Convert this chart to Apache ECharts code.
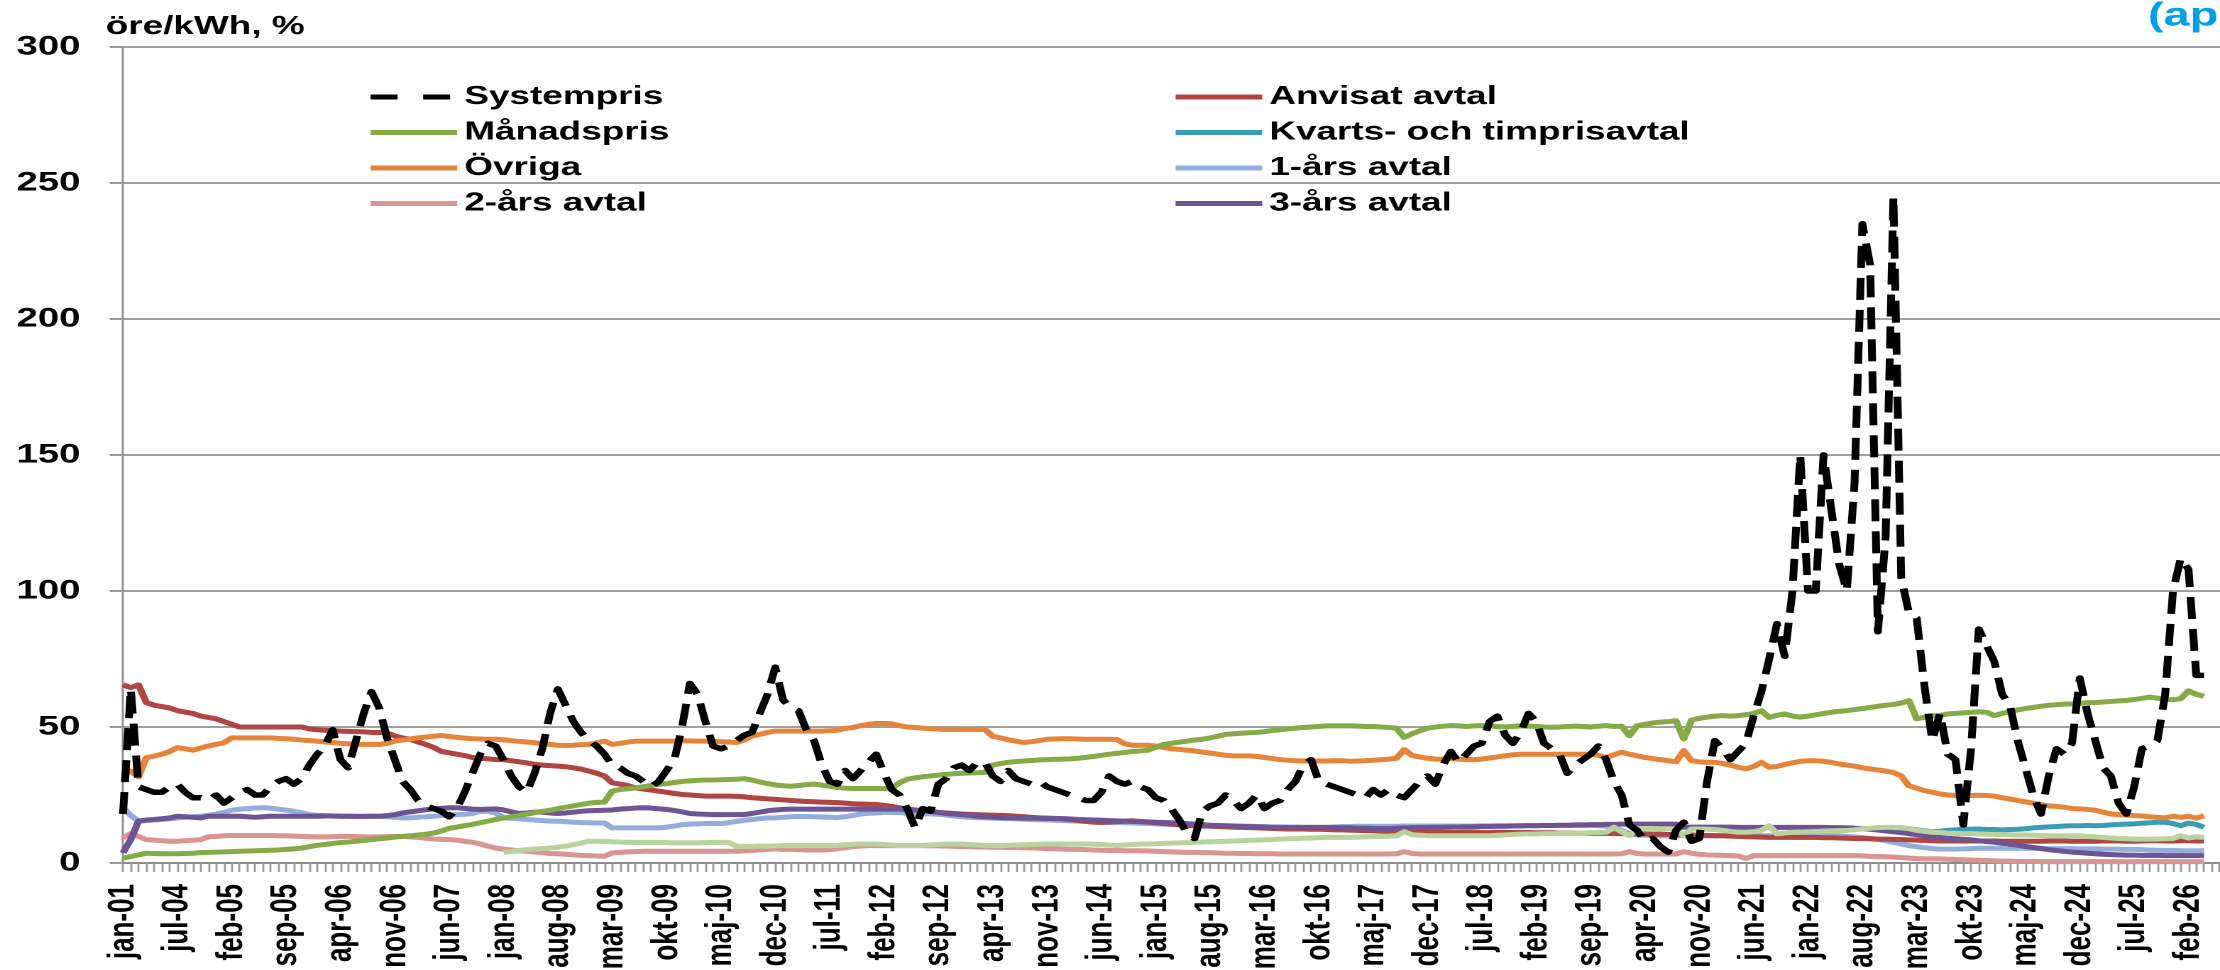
<!DOCTYPE html>
<html>
<head>
<meta charset="utf-8">
<script src="https://cdn.jsdelivr.net/npm/echarts@6/dist/echarts.min.js"></script>
<style>
  html, body { margin: 0; padding: 0; background: #fff; overflow: hidden; }
  #wrap { width: 1564px; height: 970px; transform: scaleX(1.41944); transform-origin: 0 0; }
</style>
</head>
<body>
<div id="wrap"></div>
<script>
// ---------- DATA ----------
const monthNames = ['jan','feb','mar','apr','maj','jun','jul','aug','sep','okt','nov','dec'];
const categories = ['jan-01'];
for (let y = 2004; y <= 2026; y++) {
  for (let m = 0; m < 12; m++) {
    if (y === 2026 && m > 3) break;
    categories.push(monthNames[m] + '-' + String(y).slice(2));
  }
}
const padCategories = ['', '', '', '', '', ''];

const yTicks = { min: 0, max: 300, interval: 50 };

const systempris = [18,
  64, 28, 27, 26, 26, 28, 29, 26, 24, 24, 23, 25,
  22, 24, 26, 27, 25, 25, 28, 30, 31, 29, 31, 36,
  40, 43, 49, 38, 35, 45, 55, 63, 57, 46, 38, 30,
  27, 23, 21, 20, 19, 17, 20, 26, 33, 40, 44, 43,
  38, 32, 28, 26, 33, 42, 55, 64, 58, 52, 48, 45,
  43, 40, 36, 35, 33, 32, 30, 28, 30, 34, 38, 50,
  66, 62, 52, 43, 42, 43, 45, 47, 48, 55, 62, 72,
  60, 57, 56, 49, 45, 36, 30, 29, 34, 31, 34, 37,
  40, 33, 27, 25, 20, 13, 20, 19, 29, 31, 35, 36,
  34, 37, 37, 32, 30, 34, 31, 30, 29, 30, 28, 27,
  26, 25, 24, 23, 23, 26, 32, 30, 29, 30, 28, 27,
  24, 23, 20, 16, 11, 9, 19, 21, 22, 25, 23, 20,
  22, 25, 20, 22, 23, 27, 30, 36, 38, 30, 29, 28,
  27, 26, 25, 24, 27, 25, 27, 25, 24, 27, 30, 32,
  29, 36, 41, 37, 40, 43, 44, 52, 54, 47, 44, 48,
  55, 52, 44, 42, 40, 33, 36, 38, 40, 43, 38, 30,
  25, 14, 12, 8, 9, 6, 4, 12, 15, 8, 9, 30,
  45, 42, 38, 41, 44, 54, 63, 75, 88, 76, 100, 150,
  100, 100, 150, 130, 110, 100, 140, 235, 220, 85, 120, 245,
  105, 92, 90, 65, 45, 55, 40, 38, 14, 42, 86, 80,
  74, 62, 58, 45, 35, 25, 18, 32, 42, 40, 44, 68,
  55, 45, 35, 32, 22, 18, 28, 42, 43, 45, 62, 100,
  112, 108, 69, 69
];

const anvisatAvtal = [65.5,
  64.5, 65.5, 59, 58, 57.5, 57, 56, 55.5, 55, 54, 53.5, 53,
  52, 51, 50, 50, 50, 50, 50, 50, 50, 50, 50, 49.3,
  49, 48.8, 48.6, 48.5, 48.4, 48.3, 48.2, 48, 48, 47.8, 46.7, 46,
  45.5, 44.5, 43.6, 42.5, 41, 40.5, 40, 39.5, 38.8, 38.5, 38.3, 38,
  38, 37.6, 37.2, 36.8, 36.3, 36, 35.8, 35.6, 35.4, 35, 34.5, 33.8,
  33, 32, 29.5, 29, 28.5, 27.6, 27.2, 26.8, 26.4, 26, 25.6, 25.2,
  25, 24.8, 24.6, 24.6, 24.6, 24.6, 24.5, 24.3, 24, 23.8, 23.6, 23.4,
  23.2, 23, 22.8, 22.6, 22.5, 22.4, 22.3, 22.2, 22, 21.8, 21.7, 21.6,
  21.5, 21.2, 20.8, 20.3, 19.8, 19.5, 19.2, 19, 18.6, 18.4, 18.2, 18,
  17.9, 17.8, 17.7, 17.6, 17.5, 17.4, 17.2, 17, 16.8, 16.6, 16.5, 16.3,
  16.2, 16, 15.6, 15.3, 15, 14.9, 15, 15.2, 15.4, 15.5, 15.3, 15,
  14.8, 14.5, 14.3, 14, 13.8, 13.7, 13.6, 13.5, 13.4, 13.3, 13.2, 13.1,
  13, 12.9, 12.8, 12.7, 12.6, 12.5, 12.5, 12.5, 12.4, 12.4, 12.3, 12.2,
  12.2, 12.1, 12, 11.9, 11.8, 11.7, 11.6, 11.5, 11.4, 11.3, 11.3, 11.3,
  11.3, 11.3, 11.2, 11.2, 11.3, 11.3, 11.2, 11.2, 11.3, 11.3, 11.2, 11.2,
  11.2, 11.1, 11.1, 11.1, 11, 11, 11, 11, 10.9, 10.9, 10.9, 10.8,
  10.8, 10.7, 10.7, 10.7, 10.6, 10.6, 10.5, 10.5, 10.4, 10.3, 10.2, 10.1,
  10, 10, 9.9, 9.8, 9.7, 9.6, 9.5, 9.4, 9.4, 9.4, 9.4, 9.4,
  9.4, 9.4, 9.3, 9.3, 9.2, 9.1, 9, 9, 8.9, 8.8, 8.8, 8.7,
  8.6, 8.5, 8.4, 8.3, 8.2, 8.1, 8.1, 8.1, 8.1, 8.1, 8.1, 8.1,
  8.1, 8, 8, 8, 8, 8, 8, 8.1, 8.1, 8.1, 8, 8,
  8, 8, 8.1, 8.1, 8.1, 8, 8, 8.1, 8.2, 8.2, 8.1, 8.1,
  8.2, 8.2, 8.1, 8.1
];

const manadspris = [1.8,
  2.4, 3, 3.6, 3.5, 3.4, 3.4, 3.4, 3.5, 3.6, 3.8, 3.9, 4,
  4.1, 4.2, 4.3, 4.4, 4.5, 4.6, 4.7, 4.8, 5, 5.2, 5.5, 6,
  6.5, 6.8, 7.2, 7.5, 7.7, 8, 8.3, 8.6, 8.9, 9.2, 9.5, 9.8,
  10, 10.3, 10.6, 11, 11.8, 12.7, 13.2, 13.7, 14.2, 14.8, 15.4, 16,
  16.5, 17, 17.5, 18, 18.5, 19, 19.4, 20, 20.5, 21, 21.5, 22,
  22.3, 22.4, 26.5, 27, 27.3, 27.6, 28, 28.5, 28.9, 29.2, 29.6, 30,
  30.2, 30.4, 30.5, 30.5, 30.6, 30.7, 30.8, 31, 30.5, 29.8, 29.2, 28.7,
  28.4, 28.2, 28.5, 28.8, 29, 28.6, 28.2, 27.8, 27.5, 27.4, 27.4, 27.4,
  27.4, 27.4, 27.5, 29.5, 30.8, 31.3, 31.7, 32, 32.3, 32.6, 32.8, 33,
  33.1, 33.2, 33.3, 36, 36.5, 37, 37.3, 37.5, 37.7, 37.9, 38, 38.1,
  38.2, 38.3, 38.5, 38.8, 39.2, 39.6, 40, 40.3, 40.6, 41, 41.2, 41.5,
  42.5, 43.6, 44, 44.4, 44.8, 45.2, 45.5, 46, 46.6, 47.3, 47.5, 47.7,
  47.9, 48, 48.3, 48.7, 49, 49.3, 49.6, 49.8, 50, 50.2, 50.4, 50.4,
  50.4, 50.4, 50.3, 50.2, 50.2, 50, 49.8, 49.6, 46.2, 47.5, 48.6, 49.5,
  50, 50.3, 50.5, 50.4, 50.2, 50.4, 50.5, 50.3, 50.2, 50, 50.2, 50.4,
  50.3, 50.2, 50, 49.9, 50, 50.2, 50.3, 50.2, 50, 50.3, 50.5, 50.2,
  50.3, 46.8, 50.5, 51, 51.5, 51.8, 52, 52.3, 45.6, 52.5, 53.2, 53.6,
  54, 54.2, 54, 54.2, 54.5, 55, 56, 53.5, 54.3, 54.8, 54, 53.6,
  54, 54.5, 55, 55.4, 55.8, 56, 56.4, 56.8, 57.2, 57.6, 58, 58.3,
  58.8, 59.7, 53, 53.6, 54, 54.3, 54.8, 55, 55.2, 55.4, 55.6, 55.4,
  54.2, 55, 55.6, 56.3, 56.8, 57.2, 57.6, 58, 58.2, 58.4, 58.5, 58.7,
  58.9, 59, 59.2, 59.4, 59.6, 59.8, 60.1, 60.5, 61, 60.6, 60.2, 60,
  60.4, 63.3, 62, 61.3
];

const kvartsTimpris = [null,
  null, null, null, null, null, null, null, null, null, null, null, null,
  null, null, null, null, null, null, null, null, null, null, null, null,
  null, null, null, null, null, null, null, null, null, null, null, null,
  null, null, null, null, null, null, null, null, null, null, null, null,
  null, null, null, null, null, null, null, null, null, null, null, null,
  null, null, null, null, null, null, null, null, null, null, null, null,
  null, null, null, null, null, null, null, null, null, null, null, null,
  null, null, null, null, null, null, null, null, null, null, null, null,
  null, null, null, null, null, null, null, null, null, null, null, null,
  null, null, null, null, null, null, null, null, null, null, null, null,
  null, null, null, null, null, null, null, null, null, null, null, null,
  null, null, null, null, null, null, null, null, null, null, null, null,
  null, null, null, null, null, null, null, null, null, null, null, null,
  null, null, null, null, null, null, null, null, null, null, null, null,
  null, null, null, null, null, null, null, null, null, null, null, null,
  null, null, null, null, null, null, null, null, null, null, null, null,
  null, null, null, null, null, null, null, null, null, null, null, null,
  null, null, null, null, null, null, null, null, null, null, null, null,
  null, null, null, null, null, null, null, null, null, null, null, 12.8,
  13, 12.6, 12.2, 11.8, 11.5, 11.7, 12, 12.2, 12.5, 12.4, 12.5, 12.3,
  12.3, 12.2, 12.3, 12.4, 12.6, 12.9, 13.1, 13.3, 13.4, 13.6, 13.7, 13.7,
  13.8, 13.7, 13.8, 14, 14.2, 14.3, 14.4, 14.6, 14.8, 15, 15, 14.5,
  13.7, 14.7, 14.2, 13.1
];

const ovriga = [32.6,
  33.8, 31.7, 38.7, 39.3, 40, 41, 42.4, 42, 41.5, 42.3, 43, 43.6,
  44.2, 46, 46, 46, 46, 46, 46, 45.8, 45.7, 45.5, 45.2, 45,
  44.8, 44.5, 44.3, 44, 43.8, 43.6, 43.6, 43.6, 43.6, 44, 44.8, 45.2,
  45.6, 46, 46.3, 46.6, 46.9, 46.5, 46.2, 45.9, 45.7, 45.6, 45.5, 45.5,
  45.3, 45, 44.7, 44.5, 44.2, 43.9, 43.6, 43.3, 43.2, 43.3, 43.5, 43.6,
  44.2, 44.8, 43.6, 44, 44.4, 44.8, 44.8, 44.8, 44.8, 44.8, 44.8, 44.9,
  44.9, 44.8, 44.8, 44.7, 44.6, 44.5, 44.3, 45.2, 46.7, 47.3, 48, 48.5,
  48.5, 48.5, 48.5, 48.5, 48.5, 48.5, 48.6, 48.8, 49.5, 49.8, 50.5, 51,
  51.3, 51.3, 51.2, 50.5, 50, 49.8, 49.6, 49.4, 49.2, 49.1, 49.1, 49.1,
  49.1, 49.1, 49.1, 46.6, 46, 45.3, 44.8, 44.3, 44.6, 45, 45.5, 45.6,
  45.7, 45.7, 45.6, 45.5, 45.5, 45.5, 45.5, 45.4, 43.8, 43.3, 43.3, 43.3,
  43, 42.5, 42, 41.8, 41.5, 41.2, 40.8, 40.4, 40, 39.6, 39.4, 39.4,
  39.4, 39.2, 38.8, 38.4, 38, 37.8, 37.6, 37.5, 37.5, 37.5, 37.5, 37.6,
  37.6, 37.4, 37.5, 37.6, 37.8, 38, 38.2, 38.5, 41.7, 39.5, 39, 38.5,
  38.2, 38.2, 38.4, 38.2, 38, 38, 38.2, 38.6, 39, 39.4, 39.8, 40,
  40, 40, 40, 40, 40, 40, 40, 40, 40, 39.6, 38.8, 39.8,
  40.7, 40, 39.4, 38.8, 38.4, 38, 37.6, 37.2, 41.3, 37.6, 37.2, 37,
  37, 36.6, 36, 35.2, 34.6, 35.5, 37, 35.2, 35.5, 36.2, 36.8, 37.4,
  37.6, 37.6, 37.4, 37, 36.4, 36, 35.6, 35, 34.6, 34.2, 33.8, 33.3,
  32, 28.4, 27.5, 26.6, 26, 25.4, 25, 24.8, 24.8, 24.8, 24.9, 24.8,
  24.6, 24, 23.5, 23, 22.5, 22, 21.5, 21, 20.8, 20.5, 20, 19.9,
  19.7, 19.4, 18.7, 18, 17.8, 17.6, 17.4, 17.3, 17, 16.8, 16.6, 17.2,
  16.8, 17.2, 16.5, 17.4
];

const ettarsAvtal = [20.3,
  17.5, 15.4, 15.6, 15.8, 16, 16.2, 16.5, 16.8, 17, 17.2, 17.5, 18,
  18.6, 19.4, 19.8, 20, 20.2, 20.3, 20.2, 19.8, 19.4, 19, 18.5, 17.8,
  17.6, 17.4, 17.3, 17.2, 17.2, 17.2, 17.2, 17.2, 17.2, 17, 16.8, 16.6,
  16.6, 16.8, 17, 17.2, 17.4, 17.6, 17.8, 17.9, 18.2, 19, 19, 18.4,
  16.6, 16.4, 16.2, 16, 15.8, 15.6, 15.4, 15.4, 15.2, 15, 14.9, 14.8,
  14.7, 14.7, 12.9, 12.9, 12.9, 12.9, 12.9, 12.9, 12.9, 13.2, 13.6, 14.1,
  14.3, 14.4, 14.5, 14.5, 14.5, 14.8, 15.3, 15.7, 16, 16.3, 16.6, 16.6,
  16.8, 17, 17.1, 17.1, 17, 16.9, 16.8, 16.7, 17, 17.5, 18, 18.3,
  18.4, 18.6, 18.6, 18.5, 18.3, 18.1, 18, 18, 17.9, 17.6, 17.3, 17,
  16.8, 16.7, 16.6, 16.5, 16.4, 16.3, 16.2, 16.1, 16, 15.9, 15.8, 15.7,
  15.6, 15.5, 15.4, 15.3, 15.2, 15.1, 15, 14.9, 14.8, 14.7, 14.6, 14.5,
  14.4, 14.3, 14.2, 14.1, 14, 13.9, 13.8, 13.7, 13.7, 13.6, 13.6, 13.5,
  13.5, 13.4, 13.4, 13.3, 13.3, 13.2, 13.2, 13.1, 13.1, 13.1, 13.2, 13.3,
  13.4, 13.4, 13.5, 13.5, 13.5, 13.5, 13.5, 13.5, 13.6, 13.6, 13.6, 13.6,
  13.6, 13.6, 13.6, 13.6, 13.6, 13.6, 13.7, 13.7, 13.7, 13.7, 13.7, 13.8,
  13.8, 13.8, 13.8, 13.8, 13.8, 13.8, 13.8, 13.8, 13.8, 13.7, 13.5, 13,
  12, 10.8, 10.3, 10.2, 10.1, 10, 10, 10, 10, 10, 10, 10,
  10, 10, 10, 10, 10, 10, 10, 10, 10, 10, 10, 10,
  10, 10, 10, 10, 10, 9.8, 9.6, 9.4, 9, 8.6, 8.2, 7.6,
  7, 6.4, 6, 5.6, 5.3, 5.1, 5.1, 5.1, 5.2, 5.3, 5.4, 5.4,
  5.4, 5.4, 5.4, 5.4, 5.4, 5.4, 5.4, 5.3, 5.3, 5.3, 5.3, 5.2,
  5.2, 5.2, 5.1, 5.1, 5.1, 5, 5, 4.9, 4.8, 4.7, 4.6, 4.6,
  4.5, 4.5, 4.5, 4.5
];

const tvaarsAvtal = [9.2,
  10.8, 9.8, 8.6, 8.4, 8.2, 8, 8, 8.2, 8.4, 8.6, 9.6, 9.8,
  10, 10.1, 10.1, 10.1, 10.1, 10.1, 10.1, 10, 10, 9.9, 9.8, 9.7,
  9.6, 9.6, 9.7, 9.8, 9.8, 9.7, 9.6, 9.6, 9.6, 9.7, 9.8, 9.8,
  9.6, 9.4, 9.1, 8.8, 8.7, 8.6, 8.4, 8, 7.6, 7, 6.2, 5.5,
  5.1, 4.8, 4.5, 4.3, 4.1, 3.8, 3.5, 3.4, 3.2, 3, 2.8, 2.7,
  2.6, 2.5, 3.7, 3.9, 4.1, 4.2, 4.3, 4.3, 4.3, 4.3, 4.3, 4.3,
  4.3, 4.3, 4.3, 4.3, 4.3, 4.3, 4.3, 4.4, 4.6, 4.8, 5, 5.2,
  5, 5, 4.9, 4.8, 4.8, 4.8, 4.9, 5.2, 5.6, 6, 6.2, 6.4,
  6.4, 6.4, 6.4, 6.4, 6.4, 6.4, 6.4, 6.3, 6.3, 6.2, 6.1, 6,
  6, 5.9, 5.9, 5.8, 5.8, 5.7, 5.7, 5.6, 5.5, 5.4, 5.3, 5.2,
  5.1, 5, 5, 4.9, 4.8, 4.7, 4.6, 4.6, 4.5, 4.5, 4.5, 4.4,
  4.3, 4.2, 4.1, 4, 3.9, 3.9, 3.8, 3.8, 3.7, 3.6, 3.6, 3.5,
  3.5, 3.4, 3.4, 3.4, 3.3, 3.3, 3.3, 3.3, 3.3, 3.3, 3.3, 3.3,
  3.3, 3.3, 3.3, 3.3, 3.3, 3.3, 3.3, 3.4, 4.2, 3.5, 3.3, 3.3,
  3.3, 3.3, 3.3, 3.3, 3.3, 3.3, 3.3, 3.3, 3.3, 3.3, 3.3, 3.3,
  3.3, 3.3, 3.3, 3.3, 3.3, 3.3, 3.3, 3.3, 3.3, 3.3, 3.3, 3.3,
  3.4, 4.2, 3.5, 3.3, 3.3, 3.3, 3.3, 3.3, 4.2, 3.6, 3.2, 3,
  2.9, 2.8, 2.7, 2.6, 1.7, 2.7, 2.7, 2.7, 2.7, 2.7, 2.7, 2.7,
  2.7, 2.7, 2.7, 2.7, 2.7, 2.7, 2.7, 2.6, 2.5, 2.4, 2.3, 2.2,
  2, 1.8, 1.6, 1.5, 1.5, 1.5, 1.4, 1.3, 1.2, 1.1, 1, 0.9,
  0.8, 0.7, 0.7, 0.6, 0.6, 0.6, 0.5, 0.5, 0.5, 0.5, 0.5, 0.5,
  0.5, 0.5, 0.5, 0.5, 0.5, 0.5, 0.5, 0.5, 0.5, 0.5, 0.5, 0.5,
  0.5, 0.5, 0.5, 0.5
];

const trearsAvtal = [3.7,
  8.6, 15.4, 15.8, 16, 16.3, 16.6, 17.2, 17, 16.8, 16.6, 17.2, 17.2,
  17.2, 17.2, 17.2, 17, 16.8, 17, 17.2, 17.2, 17.2, 17.2, 17.2, 17.2,
  17.2, 17.3, 17.3, 17.2, 17.2, 17.1, 17.1, 17.2, 17.2, 17.4, 17.8, 18.4,
  18.8, 19.2, 19.6, 19.9, 20.1, 20.3, 20.3, 20.1, 19.8, 19.7, 19.8, 19.9,
  19.5, 18.8, 18.2, 18.4, 18.7, 18.7, 18.4, 18.2, 18.4, 18.7, 19, 19.2,
  19.3, 19.4, 19.5, 19.8, 20, 20.2, 20.3, 20.2, 19.9, 19.7, 19.3, 18.8,
  18.2, 18, 17.9, 17.8, 17.8, 17.8, 17.8, 17.8, 18.2, 18.7, 19.2, 19.5,
  19.7, 19.8, 19.8, 19.8, 19.8, 19.8, 19.8, 19.8, 19.8, 19.8, 19.8, 19.8,
  19.8, 19.8, 19.8, 19.8, 19.6, 19.4, 19.2, 19, 18.6, 18.2, 18, 17.8,
  17.5, 17.2, 17, 16.8, 16.7, 16.6, 16.6, 16.5, 16.5, 16.4, 16.4, 16.4,
  16.3, 16.2, 16, 15.9, 15.8, 15.7, 15.6, 15.5, 15.4, 15.3, 15.2, 15.1,
  15, 14.9, 14.8, 14.7, 14.5, 14.3, 14.1, 13.9, 13.8, 13.7, 13.6, 13.5,
  13.4, 13.3, 13.2, 13.1, 13.1, 13.1, 13.1, 13.1, 13.1, 13.1, 13, 13,
  12.9, 12.9, 12.8, 12.8, 12.7, 12.7, 12.7, 12.8, 12.9, 13, 13, 13.1,
  13.1, 13.1, 13.2, 13.2, 13.3, 13.3, 13.4, 13.4, 13.5, 13.5, 13.6, 13.6,
  13.7, 13.7, 13.8, 13.8, 13.9, 13.9, 14, 14, 14.1, 14.1, 14.2, 14.2,
  14.3, 14.3, 14.3, 14.3, 14.3, 14.3, 14.3, 14.3, 13.1, 13.2, 13.2, 13.2,
  13.2, 13.2, 13.2, 13.1, 13.1, 13.1, 13.1, 13.1, 13.1, 13.1, 13.1, 13.1,
  13.1, 13.1, 13.1, 13, 13, 12.9, 12.8, 12.6, 12.4, 12.1, 11.8, 11.5,
  11.2, 10.8, 10.4, 10, 9.7, 9.4, 9.1, 8.9, 8.7, 8.5, 8.2, 7.9,
  7.6, 7.3, 6.9, 6.5, 6.1, 5.7, 5.3, 4.9, 4.6, 4.3, 4, 3.8,
  3.6, 3.4, 3.2, 3.1, 3, 2.9, 2.9, 2.8, 2.8, 2.8, 2.7, 2.7,
  2.7, 2.7, 2.7, 2.7
];

const ovrigSerie = [null,
  null, null, null, null, null, null, null, null, null, null, null, null,
  null, null, null, null, null, null, null, null, null, null, null, null,
  null, null, null, null, null, null, null, null, null, null, null, null,
  null, null, null, null, null, null, null, null, null, null, null, null,
  3.9, 4.2, 4.6, 4.9, 5.1, 5.3, 5.5, 5.8, 6.2, 6.8, 7.3, 8,
  8, 8, 7.8, 7.7, 7.6, 7.6, 7.6, 7.6, 7.6, 7.5, 7.4, 7.4,
  7.4, 7.4, 7.5, 7.6, 7.6, 7.6, 6.1, 6.1, 6.1, 6.2, 6.2, 6.3,
  6.4, 6.4, 6.4, 6.4, 6.4, 6.4, 6.4, 6.5, 6.7, 6.9, 7, 7,
  7, 6.8, 6.6, 6.4, 6.4, 6.4, 6.5, 6.6, 6.8, 7, 7, 7,
  6.8, 6.6, 6.4, 6.4, 6.4, 6.5, 6.6, 6.7, 6.8, 6.9, 7, 7,
  7, 7, 7, 7, 6.9, 6.8, 6.6, 6.4, 6.6, 6.8, 7, 7,
  7.1, 7.2, 7.3, 7.4, 7.5, 7.6, 7.7, 7.8, 7.9, 8, 8.1, 8.2,
  8.3, 8.4, 8.5, 8.6, 8.8, 8.9, 9, 9.1, 9.2, 9.3, 9.4, 9.4,
  9.4, 9.4, 9.5, 9.6, 9.7, 9.8, 9.9, 10, 11.5, 10.4, 10.2, 10,
  10, 10, 10, 10, 10, 10, 10, 10, 10.2, 10.3, 10.5, 10.6,
  10.7, 10.7, 10.8, 10.8, 10.9, 10.9, 11, 11, 11.1, 11.2, 11.3, 13.1,
  11.5, 10, 12.7, 12.7, 12.7, 12.6, 12.6, 12.5, 10, 12.5, 12.5, 12.4,
  12.3, 12, 11.6, 11.3, 11.3, 11.5, 12, 13.7, 10.7, 11, 11.3, 11.4,
  11.5, 11.6, 11.7, 11.8, 11.9, 12, 12.2, 12.5, 12.8, 13, 13.1, 13.1,
  13, 12.6, 12, 11.6, 11.3, 11.2, 11, 10.9, 10.8, 10.8, 10.7, 10.6,
  10.5, 10.5, 10.4, 10.3, 10.3, 10.2, 10.1, 10, 10, 10, 10, 10,
  9.8, 9.6, 9.4, 9.2, 9, 8.9, 8.8, 8.8, 8.8, 8.8, 8.9, 9,
  10, 9.2, 9.6, 9.4
];

// ---------- CHART ----------
const FONT = "'Liberation Sans', Arial, sans-serif";
const chart = echarts.init(document.getElementById('wrap'), null, { renderer: 'canvas', devicePixelRatio: 2 });

function line(name, data, color, width, z, type) {
  return {
    name, type: 'line', data, symbol: 'none', z, animation: false,
    connectNulls: false,
    lineStyle: { color, width, type: type || 'solid', cap: 'butt', join: 'round' },
    itemStyle: { color },
    emphasis: { disabled: true }
  };
}

const legendText = { fontFamily: FONT, fontWeight: 'bold', fontSize: 26, color: '#000', lineHeight: 26 };
const legendBase = {
  orient: 'vertical', top: 84, padding: 0,
  itemWidth: 61, itemHeight: 14, itemGap: 9.5, selectedMode: false,
  itemStyle: { opacity: 0, borderWidth: 0 },
  lineStyle: { width: 5 },
  textStyle: legendText
};

chart.setOption({
  backgroundColor: '#ffffff',
  animation: false,
  grid: { left: 86.65, top: 47, width: 1498.9, height: 816, outerBoundsMode: 'none', containLabel: false },
  xAxis: {
    type: 'category',
    data: categories.concat(padCategories),
    boundaryGap: false,
    axisLine: { show: true, lineStyle: { color: '#8c8c8c', width: 2 } },
    axisTick: { show: true, interval: 0, length: 9, lineStyle: { color: '#9a9a9a', width: 1.4 } },
    axisLabel: { interval: 6, rotate: 90, margin: 21, fontFamily: FONT, fontWeight: 'bold', fontSize: 26, color: '#000' },
    splitLine: { show: false }
  },
  yAxis: {
    type: 'value',
    min: yTicks.min, max: yTicks.max, interval: yTicks.interval,
    axisLine: { show: true, lineStyle: { color: '#8c8c8c', width: 1.4 } },
    axisTick: { show: true, length: 9.4, lineStyle: { color: '#9a9a9a', width: 2 } },
    axisLabel: { margin: 30, fontFamily: FONT, fontWeight: 'bold', fontSize: 27, color: '#000' },
    splitLine: { show: true, lineStyle: { color: '#a0a0a0', width: 2 } }
  },
  legend: [
    Object.assign({}, legendBase, {
      left: 258.6,
      data: [
        { name: 'Systempris', lineStyle: { type: [19, 18], width: 5 } },
        'Månadspris', 'Övriga', '2-års avtal'
      ]
    }),
    Object.assign({}, legendBase, {
      left: 825.7,
      data: ['Anvisat avtal', 'Kvarts- och timprisavtal', '1-års avtal', '3-års avtal']
    })
  ],
  graphic: [
    { type: 'text', left: 74.5, top: 14, style: { text: 'öre/kWh, %', font: "bold 26px 'Liberation Sans', Arial, sans-serif", fill: '#000' } },
    { type: 'text', left: 1513.3, top: 0, style: { text: '(april 2026)', font: "bold 33px 'Liberation Sans', Arial, sans-serif", fill: '#00A0E4' } }
  ],
  series: [
    line('2-års avtal', tvaarsAvtal, '#D99493', 5, 2),
    line('1-års avtal', ettarsAvtal, '#93AEDA', 5, 3),
    line('Anvisat avtal', anvisatAvtal, '#B04541', 5, 4),
    line('3-års avtal', trearsAvtal, '#6E5494', 5, 5),
    line('Kvarts- och timprisavtal', kvartsTimpris, '#3A9DB5', 5, 6),
    line('Övrigt', ovrigSerie, '#B8D49C', 5, 7),
    line('Övriga', ovriga, '#E6853A', 5, 8),
    line('Månadspris', manadspris, '#85AB47', 5, 9),
    line('Systempris', systempris, '#000000', 5.5, 10, [22, 10])
  ]
});
</script>
</body>
</html>
